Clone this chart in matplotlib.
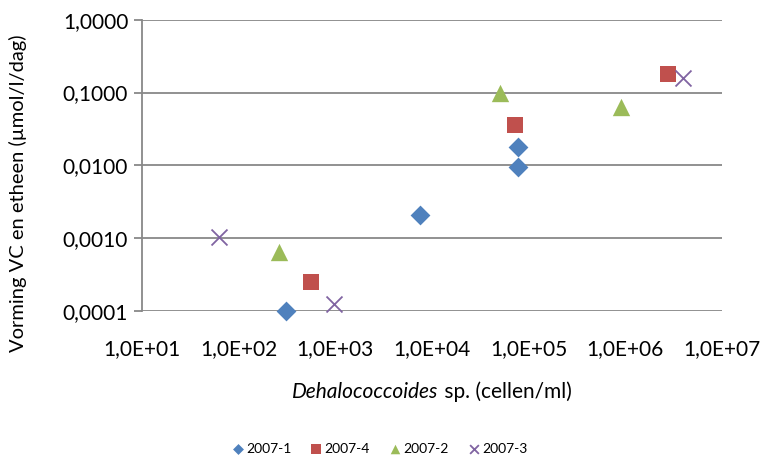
import matplotlib
matplotlib.use("Agg")
import matplotlib.pyplot as plt
from matplotlib.ticker import FixedLocator, NullLocator
from matplotlib.offsetbox import TextArea, HPacker, AnchoredOffsetbox

plt.rcParams['font.family'] = ['Lato', 'DejaVu Sans']

# Dehalococcoides cell counts (cells/ml) and VC + ethene formation (umol/l/day)
s1_x = [310, 7500, 78500, 78500]
s1_y = [0.0001, 0.00207, 0.0179, 0.00963]
s4_x = [558, 72600, 2.75e6]
s4_y = [0.000255, 0.036, 0.178]
s2_x = [264, 50000, 9.0e5]
s2_y = [0.00066, 0.098, 0.063]
s3_x = [62, 980, 3.96e6]
s3_y = [0.00105, 0.000126, 0.16]

series_labels = ["2007-1", "2007-4", "2007-2", "2007-3"]
y_ticks = [0.0001, 0.001, 0.01, 0.1, 1.0]
y_tick_labels = ["0,0001", "0,0010", "0,0100", "0,1000", "1,0000"]
x_ticks = [1e1, 1e2, 1e3, 1e4, 1e5, 1e6, 1e7]
x_tick_labels = ["1,0E+01", "1,0E+02", "1,0E+03", "1,0E+04", "1,0E+05", "1,0E+06", "1,0E+07"]

fig = plt.figure(figsize=(7.62, 4.57), dpi=100)
ax = fig.add_axes([0.1864, 0.3188, 0.761, 0.6382])

ax.set_xscale('log')
ax.set_yscale('log')
ax.set_xlim(1e1, 1e7)
ax.set_ylim(1e-4, 1.0)

grid_col = '#888888'
for yv in y_ticks:
    ax.axhline(yv, color=grid_col, lw=1.3, zorder=1)

for sp in ['top', 'right', 'bottom']:
    ax.spines[sp].set_visible(False)
ax.spines['left'].set_color(grid_col)
ax.spines['left'].set_linewidth(1.3)

ax.yaxis.set_major_locator(FixedLocator(y_ticks))
ax.yaxis.set_minor_locator(NullLocator())
ax.set_yticklabels(y_tick_labels)
ax.tick_params(axis='y', which='major', length=6, width=1.3, color=grid_col,
               labelsize=15, pad=4)

ax.xaxis.set_major_locator(FixedLocator(x_ticks))
ax.xaxis.set_minor_locator(NullLocator())
ax.set_xticklabels(x_tick_labels)
ax.tick_params(axis='x', which='major', length=0, labelsize=15, pad=20)

ms = 120
ax.scatter(s1_x, s1_y, marker='D', s=ms * 0.85, color='#4F81BD', label=series_labels[0],
           zorder=3, linewidths=0, clip_on=False)
ax.scatter(s4_x, s4_y, marker='s', s=ms * 1.2, color='#C0504D', label=series_labels[1],
           zorder=3, linewidths=0, clip_on=False)
ax.scatter(s2_x, s2_y, marker='^', s=ms * 1.3, color='#9BBB59', label=series_labels[2],
           zorder=3, linewidths=0, clip_on=False)
ax.scatter(s3_x, s3_y, marker='x', s=ms * 1.1, color='#8064A2', label=series_labels[3],
           zorder=3, linewidths=1.3, clip_on=False)

fig.text(18 / 762, 1 - 193 / 457, 'Vorming VC en etheen (µmol/l/dag)',
         rotation=90, ha='center', va='center', fontsize=14.5)

# x-axis title with an italic genus name
t_it = TextArea('Dehalococcoides', textprops=dict(fontsize=15, style='italic'))
t_rm = TextArea(' sp. (cellen/ml)', textprops=dict(fontsize=15))
box = HPacker(children=[t_it, t_rm], align='baseline', pad=0, sep=0)
anch = AnchoredOffsetbox(loc='center', child=box, frameon=False,
                         bbox_to_anchor=(432 / 762, 1 - 392 / 457),
                         bbox_transform=fig.transFigure, borderpad=0, pad=0)
fig.add_artist(anch)

fig.legend(loc='center', bbox_to_anchor=(379 / 762, 1 - 449 / 457), ncol=4,
           frameon=False, fontsize=10, handletextpad=0.1, columnspacing=1.3,
           markerscale=0.55, handlelength=1.0)

fig.savefig('out.png', dpi=100)
